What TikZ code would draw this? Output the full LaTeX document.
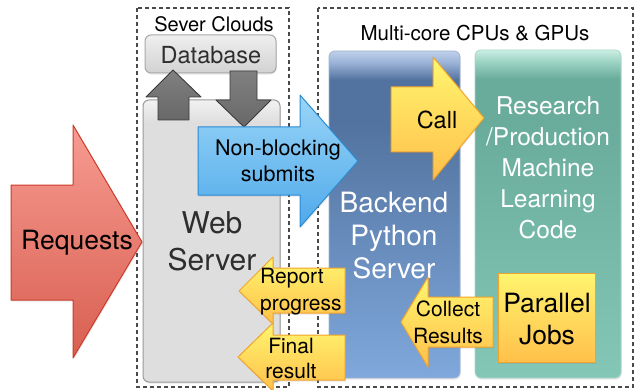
\documentclass[tikz,border=0pt]{standalone}
\usepackage{fontspec}
\setmainfont{TeX Gyre Heros}
\usetikzlibrary{shadows}
\newcommand\fsz[2]{\fontsize{#1}{#2}\selectfont}
\definecolor{dashcol}{HTML}{4A4A4A}
\definecolor{dbtop}{HTML}{EFEFEF}
\definecolor{dbbot}{HTML}{D2D2D2}
\definecolor{dbborder}{HTML}{A8A8A8}
\definecolor{wstop}{HTML}{F2F2F2}
\definecolor{wsbot}{HTML}{DEDEDE}
\definecolor{wsborder}{HTML}{9A9A9A}
\definecolor{graytop}{HTML}{808080}
\definecolor{graybot}{HTML}{686868}
\definecolor{grayborder}{HTML}{3A3A3A}
\definecolor{redtop}{HTML}{F79B92}
\definecolor{redbot}{HTML}{D85F50}
\definecolor{redborder}{HTML}{CC3A2A}
\definecolor{bluetop}{HTML}{9AD5F8}
\definecolor{bluebot}{HTML}{4FA9EA}
\definecolor{blueborder}{HTML}{2A8BD5}
\definecolor{yeltop}{HTML}{FFF56F}
\definecolor{yelbot}{HTML}{FFC04A}
\definecolor{yelborder}{HTML}{F0A42C}
\definecolor{txtgray}{HTML}{2E2E2E}
\definecolor{beTop}{HTML}{BFD0EA}
\definecolor{beMid}{HTML}{9DB4D9}
\definecolor{beDark}{HTML}{52739F}
\definecolor{beBot}{HTML}{80A8DC}
\definecolor{beBorder}{HTML}{9FB4D3}
\definecolor{grTop}{HTML}{CBEEE3}
\definecolor{grMid}{HTML}{9ED4C5}
\definecolor{grDark}{HTML}{69AC9B}
\definecolor{grBot}{HTML}{84C7B6}
\definecolor{grBorder}{HTML}{A8D8C8}
\pgfdeclareverticalshading{backendshade}{100bp}{color(0bp)=(beBot); color(25bp)=(beBot); color(64bp)=(beDark); color(70.6bp)=(beDark); color(73.3bp)=(beMid); color(75bp)=(beTop); color(100bp)=(beTop)}
\pgfdeclareverticalshading{greenshade}{100bp}{color(0bp)=(grBot); color(25bp)=(grBot); color(64bp)=(grDark); color(70.6bp)=(grDark); color(73.3bp)=(grMid); color(75bp)=(grTop); color(100bp)=(grTop)}
\pgfdeclareverticalshading{webshade}{100bp}{color(0bp)=(wsbot); color(25bp)=(wsbot); color(71bp)=(wsbot); color(75bp)=(wstop); color(100bp)=(wstop)}
\begin{document}
\begin{tikzpicture}[x=1pt,y=-1pt,
  dashbox/.style={draw=dashcol, line width=1.2pt, dash pattern=on 4pt off 3pt},
  grayarrow/.style={draw=grayborder, line width=0.9pt, top color=graytop, bottom color=graybot, line join=round},
  yelarrow/.style={draw=yelborder, line width=1pt, top color=yeltop, bottom color=yelbot, line join=round},
  lbl/.style={inner sep=0pt, align=center, text=black},
  shad/.style={drop shadow={opacity=0.18, shadow xshift=0.8pt, shadow yshift=-1.6pt}}
]
\useasboundingbox (0,0) rectangle (636,390);
% dashed containers
\draw[dashbox] (137,8) rectangle (289,387);
\draw[dashbox] (318,8) rectangle (633,387);
\node[lbl, font=\fsz{20}{24}] (sever) at (214,24) {Sever Clouds};
\node[lbl, font=\fsz{20.5}{24}] (multi) at (475,33) {Multi-core CPUs \& GPUs};
% database and web server
\draw[draw=dbborder, line width=1pt, top color=dbtop, bottom color=dbbot, rounded corners=6pt, shad] (145,35) rectangle (276,73);
\node[lbl, text=txtgray, font=\fsz{23.5}{28}] (db) at (211,55) {Database};
\draw[draw=wsborder, line width=1pt, shading=webshade, rounded corners=6pt, shad] (143,100) rectangle (280,382);
\node[lbl, text=txtgray, font=\fsz{30}{37}] (web) at (212,241) {Web\\Server};
% gray arrows
\draw[grayarrow] (158,120) -- (158,97) -- (146,97) -- (173,70) -- (201,97) -- (189,97) -- (189,120) -- cycle;
\draw[grayarrow] (230,71) -- (257,71) -- (257,100) -- (271,100) -- (244,127) -- (216,100) -- (230,100) -- cycle;
% backend and ML boxes
\draw[draw=beBorder, line width=0.8pt, shading=backendshade, rounded corners=6pt, shad] (329,51) rectangle (460,378);
\draw[draw=grBorder, line width=0.8pt, shading=greenshade, rounded corners=6pt, shad] (475,50) rectangle (621,378);
\node[lbl, text=white, font=\fsz{28}{33}] (backend) at (394,236) {Backend\\Python\\Server};
\node[lbl, text=white, font=\fsz{24.5}{31}] (ml) at (548,168) {Research\\/Production\\Machine\\Learning\\Code};
% requests
\draw[draw=redborder, line width=1pt, top color=redtop, bottom color=redbot, line join=round, shad] (11,185) -- (73,185) -- (73,125) -- (142,242) -- (73,358) -- (73,300) -- (11,300) -- cycle;
\node[lbl, font=\fsz{26.5}{30}] (req) at (77,243) {Requests};
% non-blocking submits
\draw[draw=blueborder, line width=1pt, top color=bluetop, bottom color=bluebot, line join=round, shad] (198,127) -- (300,127) -- (300,95) -- (358,161) -- (300,227) -- (300,195) -- (198,195) -- cycle;
\node[lbl, font=\fsz{21.5}{26}] (nb) at (278,161) {Non-blocking\\submits};
% call
\draw[yelarrow, shad] (391,87) -- (433,87) -- (433,57) -- (484,118) -- (433,180) -- (433,152) -- (391,152) -- cycle;
\node[lbl, font=\fsz{23.5}{28}] (call) at (437,120) {Call};
% parallel jobs
\draw[draw=yelborder, line width=1pt, top color=yeltop, bottom color=yelbot, shad] (498,273) rectangle (595,362);
\node[lbl, font=\fsz{26.5}{32}] (pj) at (547,319) {Parallel\\Jobs};
% collect results
\draw[yelarrow, shad] (493,297) -- (428,297) -- (428,277) -- (401,322) -- (428,367) -- (428,347) -- (493,347) -- cycle;
\node[lbl, font=\fsz{21}{27}] (collect) at (448,322) {Collect\\Results};
% report progress
\draw[yelarrow, shad] (345,268) -- (273,268) -- (273,257) -- (239,291) -- (273,324) -- (273,313) -- (345,313) -- cycle;
\node[lbl, align=left, anchor=west, font=\fsz{21}{27}] (report) at (260,292) {Report\\progress};
% final result
\draw[yelarrow, shad] (345,335) -- (273,335) -- (273,323) -- (238,357) -- (273,391) -- (273,380) -- (345,380) -- cycle;
\node[lbl, font=\fsz{21}{25}] (final) at (291,358) {Final\\result};
\end{tikzpicture}
\end{document}
